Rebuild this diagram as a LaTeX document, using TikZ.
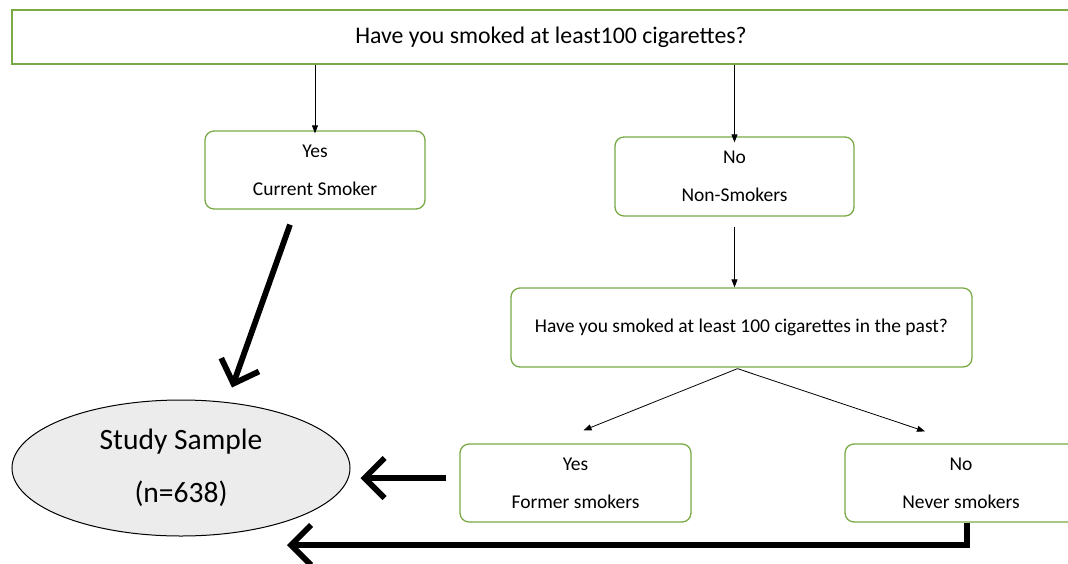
\documentclass[tikz,border=0pt]{standalone}
\usepackage{fontspec}
\setmainfont{Carlito}
\usetikzlibrary{arrows.meta,calc,shapes.geometric}
\definecolor{boxgreen}{RGB}{122,170,70}
\definecolor{ellgray}{RGB}{236,236,236}
\begin{document}
\begin{tikzpicture}[x=1pt,y=-1pt,
  qbox/.style={draw=boxgreen,line width=1.3pt,fill=white,align=center,inner sep=0pt},
  rbox/.style={qbox,rounded corners=9pt},
  twoline/.style={font=\fontsize{19.5}{38}\selectfont},
  thin arrow/.style={line width=0.8pt,-{Triangle[length=8pt,width=6pt]}},
  thick arrow/.style={line width=5.8pt,-{Straight Barb[length=20pt,width=40pt,line width=5.8pt]}},
]
\useasboundingbox (0,0) rectangle (1068,563);
\node[qbox,minimum width=1068pt,minimum height=54pt,font=\fontsize{23.5}{28}\selectfont] (top) at (546,37) {};
\node[font=\fontsize{23.8}{28}\selectfont] (toptext) at (551,37) {Have you smoked at least100 cigarettes?};
\node[rbox,twoline,minimum width=220pt,minimum height=78pt] (yes) at (315,170) {Yes\\Current Smoker};
\node[rbox,twoline,minimum width=239pt,minimum height=79pt] (no) at (734.5,176.5) {No\\Non-Smokers};
\node[rbox,font=\fontsize{19.5}{24}\selectfont,minimum width=461pt,minimum height=79pt] (past) at (741.5,327.5) {Have you smoked at least 100 cigarettes in the past?};
\node[rbox,twoline,minimum width=231pt,minimum height=78pt] (former) at (575.5,483) {Yes\\Former smokers};
\node[rbox,twoline,minimum width=232pt,minimum height=78pt] (never) at (961,483) {No\\Never smokers};
\node[ellipse,draw=black,line width=1pt,fill=ellgray,minimum width=338pt,minimum height=136pt,align=center,inner sep=0pt,font=\fontsize{29.5}{53}\selectfont] (study) at (181,468) {Study Sample\\(n=638)};

\draw[thin arrow] (top.south -| yes.north) -- ([yshift=-3pt]yes.north);
\draw[thin arrow] (top.south -| no.north) -- ([yshift=-6pt]no.north);
\draw[thin arrow] ($(no.south)+(0,10)$) coordinate (nos) -- (nos |- past.north);
\draw[thin arrow] ($(past.south)+(-4,1)$) coordinate (ps) -- ($(former.north)+(8,-13)$);
\draw[thin arrow] (ps) -- ($(never.north)+(-36,-12)$);

\draw[thick arrow] ($(yes.south)+(-25,15)$) -- ($(study.north)+(51,-12)$);
\draw[thick arrow] ($(former.west)+(-13,-5)$) -- ($(study.east)+(10,10)$);
\coordinate (ssend) at (287,545);
\draw[thick arrow] ($(never.south)+(6,0)$) |- (ssend);
\end{tikzpicture}
\end{document}
